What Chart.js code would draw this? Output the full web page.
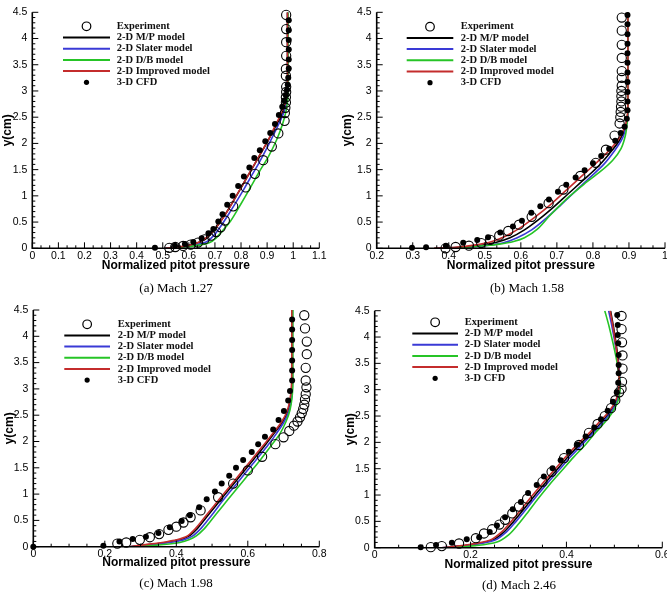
<!DOCTYPE html>
<html>
<head>
<meta charset="utf-8">
<script src="https://cdn.jsdelivr.net/npm/chart.js@4.4.1/dist/chart.umd.min.js"></script>
<style>
  html, body { margin: 0; padding: 0; background: #fff; }
  body { position: relative; width: 667px; height: 595px; overflow: hidden; }
  canvas { position: absolute; }
  .cap { position: absolute; font: 13px "Liberation Serif", "Times New Roman", serif; color: #000;
         transform: translateX(-50%); white-space: nowrap; line-height: 16px; }
</style>
</head>
<body>
<canvas id="chartA" width="334" height="282" style="left:0;top:0"></canvas>
<canvas id="chartB" width="343" height="282" style="left:334px;top:0"></canvas>
<canvas id="chartC" width="334" height="290" style="left:0;top:295px"></canvas>
<canvas id="chartD" width="343" height="290" style="left:334px;top:295px"></canvas>
<div class="cap" style="left:176px;top:280px">(a) Mach 1.27</div>
<div class="cap" style="left:527px;top:280px">(b) Mach 1.58</div>
<div class="cap" style="left:176px;top:575px">(c) Mach 1.98</div>
<div class="cap" style="left:519px;top:577px">(d) Mach 2.46</div>
<script>
// ---- tick values ----
const yTicks = [0, 0.5, 1, 1.5, 2, 2.5, 3, 3.5, 4, 4.5];
const xTicksA = [0, 0.1, 0.2, 0.3, 0.4, 0.5, 0.6, 0.7, 0.8, 0.9, 1, 1.1];
const xTicksB = [0.2, 0.3, 0.4, 0.5, 0.6, 0.7, 0.8, 0.9, 1];
const xTicksC = [0, 0.2, 0.4, 0.6, 0.8];
const xTicksD = [0, 0.2, 0.4, 0.6];

// ---- (a) Mach 1.27 ----
const expA = [[0.525,0.01],[0.548,0.025],[0.578,0.045],[0.607,0.07],[0.635,0.11],[0.66,0.17],[0.685,0.24],[0.705,0.31],[0.722,0.4],[0.738,0.53],[0.77,0.8],[0.818,1.16],[0.853,1.42],[0.885,1.68],[0.918,1.94],[0.943,2.19],[0.967,2.43],[0.968,2.58],[0.97,2.68],[0.972,2.78],[0.972,2.88],[0.973,2.98],[0.973,3.08],[0.972,3.29],[0.972,3.42],[0.973,3.67],[0.973,3.93],[0.973,4.18],[0.973,4.45]];
const cfdA = [[0.47,0.01],[0.547,0.05],[0.585,0.08],[0.617,0.12],[0.649,0.19],[0.675,0.285],[0.694,0.37],[0.713,0.51],[0.729,0.65],[0.747,0.83],[0.768,1.0],[0.789,1.19],[0.811,1.37],[0.832,1.54],[0.851,1.72],[0.872,1.87],[0.893,2.04],[0.912,2.2],[0.93,2.37],[0.945,2.54],[0.958,2.7],[0.966,2.82],[0.972,2.92],[0.976,3.02],[0.979,3.12],[0.981,3.25],[0.983,3.43],[0.983,3.6],[0.983,3.79],[0.983,3.97],[0.983,4.16],[0.983,4.35]];
const mpA = [[0.51,0],[0.57,0.03],[0.62,0.08],[0.66,0.16],[0.69,0.3],[0.72,0.5],[0.75,0.73],[0.78,0.98],[0.81,1.24],[0.84,1.5],[0.87,1.76],[0.9,2.02],[0.93,2.3],[0.953,2.52],[0.967,2.7],[0.975,2.88],[0.978,3.05],[0.978,3.5],[0.978,4.5]];
const slaterA = [[0.51,0],[0.58,0.03],[0.63,0.07],[0.67,0.13],[0.7,0.27],[0.725,0.44],[0.75,0.63],[0.78,0.87],[0.81,1.12],[0.84,1.38],[0.87,1.64],[0.9,1.92],[0.93,2.22],[0.955,2.48],[0.97,2.68],[0.977,2.85],[0.979,3.05],[0.979,3.5],[0.979,4.5]];
const dbA = [[0.52,0],[0.58,0.025],[0.64,0.06],[0.68,0.11],[0.705,0.2],[0.73,0.34],[0.76,0.52],[0.8,0.85],[0.835,1.15],[0.87,1.46],[0.905,1.75],[0.935,2.05],[0.958,2.35],[0.972,2.6],[0.978,2.8],[0.98,3.0],[0.98,3.5],[0.98,4.5]];
const impA = [[0.51,0],[0.56,0.025],[0.6,0.055],[0.64,0.12],[0.67,0.22],[0.7,0.37],[0.73,0.57],[0.76,0.81],[0.79,1.07],[0.82,1.33],[0.85,1.59],[0.88,1.85],[0.91,2.12],[0.935,2.38],[0.955,2.58],[0.968,2.75],[0.975,2.92],[0.978,3.1],[0.978,3.5],[0.978,4.5]];

// ---- (b) Mach 1.58 ----
const expB = [[0.391,0.0],[0.419,0.025],[0.456,0.05],[0.49,0.1],[0.515,0.16],[0.54,0.24],[0.565,0.33],[0.595,0.45],[0.63,0.6],[0.677,0.86],[0.718,1.12],[0.765,1.38],[0.808,1.63],[0.836,1.88],[0.86,2.15],[0.874,2.38],[0.876,2.5],[0.877,2.6],[0.878,2.7],[0.879,2.8],[0.879,2.9],[0.879,3.0],[0.88,3.1],[0.88,3.25],[0.88,3.38],[0.88,3.63],[0.88,3.88],[0.88,4.15],[0.88,4.4]];
const cfdB = [[0.298,0.01],[0.337,0.02],[0.392,0.05],[0.44,0.107],[0.479,0.158],[0.509,0.21],[0.543,0.3],[0.578,0.415],[0.603,0.527],[0.629,0.68],[0.654,0.8],[0.678,0.93],[0.703,1.08],[0.726,1.21],[0.752,1.35],[0.777,1.49],[0.8,1.62],[0.823,1.76],[0.845,1.9],[0.862,2.05],[0.877,2.2],[0.888,2.32],[0.894,2.47],[0.896,2.63],[0.896,2.8],[0.896,2.98],[0.896,3.17],[0.896,3.35],[0.896,3.54],[0.896,3.72],[0.896,3.9],[0.896,4.08],[0.896,4.27],[0.896,4.45]];
const mpB = [[0.36,0],[0.43,0.02],[0.48,0.05],[0.53,0.11],[0.57,0.2],[0.61,0.35],[0.65,0.55],[0.69,0.78],[0.73,1.03],[0.77,1.28],[0.81,1.53],[0.845,1.8],[0.873,2.05],[0.89,2.3],[0.896,2.5],[0.897,2.7],[0.897,3.5],[0.897,4.5]];
const slaterB = [[0.37,0],[0.45,0.02],[0.5,0.05],[0.55,0.1],[0.59,0.2],[0.63,0.35],[0.67,0.57],[0.71,0.82],[0.75,1.08],[0.79,1.34],[0.83,1.6],[0.86,1.86],[0.882,2.1],[0.893,2.35],[0.897,2.55],[0.898,2.75],[0.898,3.5],[0.898,4.5]];
const dbB = [[0.38,0],[0.45,0.02],[0.5,0.05],[0.54,0.08],[0.58,0.13],[0.61,0.2],[0.645,0.36],[0.68,0.62],[0.73,0.96],[0.775,1.22],[0.82,1.46],[0.855,1.68],[0.878,1.9],[0.89,2.15],[0.895,2.4],[0.897,2.7],[0.897,3.5],[0.897,4.5]];
const impB = [[0.36,0],[0.42,0.02],[0.47,0.06],[0.52,0.13],[0.56,0.24],[0.6,0.4],[0.64,0.6],[0.68,0.82],[0.72,1.07],[0.76,1.32],[0.8,1.57],[0.84,1.83],[0.87,2.07],[0.888,2.3],[0.895,2.5],[0.897,2.7],[0.897,3.5],[0.897,4.5]];

// ---- (c) Mach 1.98 ----
const expC = [[0.235,0.06],[0.26,0.08],[0.298,0.13],[0.326,0.18],[0.352,0.24],[0.378,0.32],[0.4,0.38],[0.42,0.46],[0.44,0.56],[0.468,0.69],[0.517,0.94],[0.559,1.2],[0.6,1.45],[0.64,1.71],[0.677,1.95],[0.7,2.08],[0.716,2.2],[0.729,2.3],[0.739,2.38],[0.746,2.46],[0.751,2.54],[0.755,2.62],[0.758,2.7],[0.76,2.8],[0.762,2.9],[0.764,3.03],[0.762,3.16],[0.762,3.4],[0.765,3.66],[0.765,3.9],[0.76,4.15],[0.758,4.4]];
const cfdC = [[0,0],[0.196,0.02],[0.241,0.1],[0.278,0.146],[0.315,0.19],[0.35,0.26],[0.382,0.37],[0.415,0.49],[0.438,0.6],[0.464,0.75],[0.485,0.9],[0.508,1.05],[0.527,1.2],[0.548,1.35],[0.567,1.5],[0.587,1.65],[0.611,1.8],[0.629,1.95],[0.648,2.09],[0.671,2.23],[0.686,2.41],[0.701,2.58],[0.713,2.78],[0.718,2.96],[0.724,3.16],[0.724,3.35],[0.724,3.54],[0.724,3.74],[0.724,3.93],[0.724,4.13],[0.724,4.32]];
const mpC = [[0.27,0],[0.31,0.03],[0.35,0.06],[0.38,0.09],[0.41,0.13],[0.435,0.2],[0.455,0.32],[0.475,0.48],[0.495,0.65],[0.525,0.9],[0.555,1.15],[0.585,1.4],[0.615,1.65],[0.645,1.9],[0.673,2.15],[0.698,2.38],[0.712,2.58],[0.72,2.8],[0.723,3.05],[0.724,3.5],[0.724,4.5]];
const slaterC = [[0.27,0],[0.32,0.03],[0.36,0.06],[0.39,0.09],[0.42,0.13],[0.445,0.2],[0.465,0.32],[0.485,0.48],[0.505,0.65],[0.533,0.9],[0.563,1.15],[0.593,1.4],[0.623,1.65],[0.653,1.9],[0.68,2.15],[0.702,2.38],[0.715,2.58],[0.722,2.8],[0.725,3.05],[0.725,3.5],[0.725,4.5]];
const dbC = [[0.28,0],[0.33,0.02],[0.38,0.05],[0.41,0.08],[0.435,0.13],[0.455,0.2],[0.475,0.32],[0.495,0.48],[0.515,0.65],[0.545,0.9],[0.575,1.15],[0.605,1.4],[0.635,1.65],[0.663,1.9],[0.69,2.15],[0.707,2.38],[0.718,2.6],[0.724,2.85],[0.726,3.1],[0.726,3.5],[0.726,4.5]];
const impC = [[0.27,0],[0.3,0.03],[0.34,0.06],[0.37,0.09],[0.4,0.13],[0.43,0.2],[0.45,0.32],[0.47,0.48],[0.49,0.65],[0.52,0.9],[0.55,1.15],[0.58,1.4],[0.61,1.65],[0.64,1.9],[0.67,2.15],[0.695,2.38],[0.71,2.58],[0.718,2.8],[0.722,3.05],[0.723,3.5],[0.723,4.5]];

// ---- (d) Mach 2.46 ----
const expD = [[0.117,0.01],[0.14,0.03],[0.176,0.08],[0.211,0.18],[0.228,0.27],[0.245,0.35],[0.26,0.44],[0.272,0.53],[0.287,0.65],[0.301,0.78],[0.318,0.93],[0.35,1.25],[0.369,1.44],[0.395,1.7],[0.426,1.95],[0.447,2.18],[0.465,2.35],[0.48,2.5],[0.493,2.65],[0.502,2.8],[0.51,2.95],[0.515,3.02],[0.516,3.15],[0.517,3.4],[0.517,3.65],[0.516,3.9],[0.515,4.15],[0.515,4.4]];
const cfdD = [[0.096,0.01],[0.128,0.05],[0.161,0.095],[0.192,0.16],[0.218,0.2],[0.24,0.3],[0.255,0.42],[0.272,0.58],[0.288,0.73],[0.305,0.87],[0.32,1.04],[0.338,1.19],[0.353,1.35],[0.371,1.51],[0.388,1.66],[0.405,1.82],[0.423,1.96],[0.44,2.11],[0.458,2.28],[0.472,2.44],[0.486,2.6],[0.497,2.77],[0.505,2.95],[0.508,3.13],[0.509,3.31],[0.509,3.47],[0.509,3.66],[0.508,3.88],[0.507,4.04],[0.507,4.23],[0.506,4.42]];
const mpD = [[0.14,0],[0.195,0.05],[0.245,0.14],[0.27,0.3],[0.29,0.5],[0.31,0.72],[0.33,0.95],[0.355,1.22],[0.38,1.48],[0.405,1.74],[0.43,1.98],[0.455,2.2],[0.475,2.4],[0.493,2.6],[0.505,2.8],[0.51,3.0],[0.511,3.2],[0.509,3.5],[0.504,3.85],[0.498,4.2],[0.492,4.5]];
const slaterD = [[0.14,0],[0.2,0.05],[0.25,0.14],[0.275,0.3],[0.295,0.5],[0.315,0.72],[0.335,0.95],[0.36,1.22],[0.385,1.48],[0.41,1.74],[0.435,1.98],[0.458,2.2],[0.478,2.4],[0.495,2.6],[0.506,2.8],[0.511,3.0],[0.511,3.2],[0.508,3.5],[0.502,3.85],[0.495,4.2],[0.488,4.5]];
const dbD = [[0.15,0],[0.21,0.04],[0.255,0.11],[0.28,0.25],[0.3,0.45],[0.32,0.68],[0.34,0.92],[0.365,1.2],[0.39,1.46],[0.415,1.72],[0.44,1.96],[0.462,2.2],[0.482,2.4],[0.498,2.6],[0.508,2.8],[0.512,3.0],[0.511,3.2],[0.506,3.5],[0.498,3.85],[0.489,4.2],[0.48,4.5]];
const impD = [[0.14,0],[0.19,0.05],[0.24,0.14],[0.265,0.3],[0.285,0.5],[0.305,0.72],[0.325,0.95],[0.35,1.22],[0.375,1.48],[0.4,1.74],[0.425,1.98],[0.45,2.2],[0.47,2.4],[0.49,2.6],[0.503,2.8],[0.509,3.0],[0.51,3.2],[0.508,3.5],[0.503,3.85],[0.497,4.2],[0.491,4.5]];

Chart.defaults.font.family = '"Liberation Sans", Arial, sans-serif';
Chart.defaults.color = '#000';

const toXY = pts => pts.map(p => ({ x: p[0], y: p[1] }));
const fmt = v => String(Math.round(v * 100) / 100);

function lineSet(label, pts, color, order) {
  return { label, data: toXY(pts), showLine: true, borderColor: color, borderWidth: 1.6,
           pointRadius: 0, tension: 0.3, fill: false, order };
}

// axis lines + inward major/minor ticks, like the original plots
const frame = {
  id: 'frame',
  afterDraw(chart, args, o) {
    const { ctx, chartArea: a, scales: { x, y } } = chart;
    ctx.save();
    ctx.strokeStyle = '#000';
    ctx.lineWidth = 1;
    ctx.beginPath();
    const xv = x.ticks.map(t => t.value);
    xv.forEach((v, i) => {
      const px = x.getPixelForValue(v);
      ctx.moveTo(px, a.bottom); ctx.lineTo(px, a.bottom - 6);
      if (i < xv.length - 1) {
        const step = (xv[i + 1] - v) / (o.xMinor + 1);
        for (let k = 1; k <= o.xMinor; k++) {
          const m = x.getPixelForValue(v + k * step);
          ctx.moveTo(m, a.bottom); ctx.lineTo(m, a.bottom - 3);
        }
      }
    });
    const yv = y.ticks.map(t => t.value);
    yv.forEach((v, i) => {
      const py = y.getPixelForValue(v);
      ctx.moveTo(a.left, py); ctx.lineTo(a.left + 6, py);
      if (i < yv.length - 1) {
        const step = (yv[i + 1] - v) / 5;
        for (let k = 1; k <= 4; k++) {
          const m = y.getPixelForValue(v + k * step);
          ctx.moveTo(a.left, m); ctx.lineTo(a.left + 3, m);
        }
      }
    });
    ctx.stroke();
    ctx.lineWidth = 1.6;
    ctx.beginPath();
    ctx.moveTo(a.left, a.top); ctx.lineTo(a.left, a.bottom); ctx.lineTo(a.right, a.bottom);
    ctx.stroke();
    ctx.restore();
  }
};

// Tecplot-style legend inside the plot
const boxLegend = {
  id: 'boxLegend',
  afterDraw(chart, args, o) {
    const ctx = chart.ctx;
    ctx.save();
    ctx.font = 'bold 10.5px "Liberation Serif", "Times New Roman", serif';
    ctx.textBaseline = 'middle';
    chart.data.datasets.forEach((ds, i) => {
      const yy = o.y + i * o.dy;
      const cx = (o.x0 + o.x1) / 2;
      if (ds.showLine) {
        ctx.strokeStyle = ds.borderColor;
        ctx.lineWidth = 2;
        ctx.beginPath(); ctx.moveTo(o.x0, yy); ctx.lineTo(o.x1, yy); ctx.stroke();
      } else if (ds.pointRadius > 3) {
        ctx.strokeStyle = '#000'; ctx.lineWidth = 1.2;
        ctx.beginPath(); ctx.arc(cx, yy, 4.3, 0, Math.PI * 2); ctx.stroke();
      } else {
        ctx.fillStyle = '#000';
        ctx.beginPath(); ctx.arc(cx, yy, 2.6, 0, Math.PI * 2); ctx.fill();
      }
      ctx.fillStyle = '#111';
      ctx.fillText(ds.label, o.xt, yy);
    });
    ctx.restore();
  }
};

function makeChart(id, p) {
  const datasets = [
    { label: 'Experiment', data: toXY(p.exp), showLine: false, pointRadius: 4.6, pointBorderWidth: 1.1,
      pointBorderColor: '#000', pointBackgroundColor: 'rgba(0,0,0,0)', order: 1, clip: false },
    lineSet('2-D M/P model', p.mp, '#000000', 5),
    lineSet('2-D Slater model', p.slater, '#3a3ad6', 4),
    lineSet('2-D D/B model', p.db, '#26c426', 3),
    lineSet('2-D Improved model', p.imp, '#c42c2c', 2),
    { label: '3-D CFD', data: toXY(p.cfd), showLine: false, pointRadius: 3, pointBorderWidth: 0,
      pointBackgroundColor: '#000', pointBorderColor: '#000', order: 0, clip: false }
  ];
  return new Chart(document.getElementById(id), {
    type: 'scatter',
    data: { datasets },
    options: {
      responsive: false,
      animation: false,
      events: [],
      layout: { padding: { left: 0, top: p.top, right: p.right, bottom: 0 } },
      plugins: { legend: { display: false }, tooltip: { enabled: false },
                 frame: { xMinor: p.xMinor }, boxLegend: p.legend },
      scales: {
        x: {
          type: 'linear', min: p.xTicks[0], max: p.xTicks[p.xTicks.length - 1],
          afterBuildTicks: s => { s.ticks = p.xTicks.map(v => ({ value: v })); },
          afterFit: s => { s.height = p.xH; },
          grid: { display: false, drawTicks: false }, border: { display: false },
          ticks: { autoSkip: false, maxRotation: 0, padding: 1.5, font: { size: 10.5 }, callback: fmt },
          title: { display: true, text: 'Normalized pitot pressure', font: { size: 12, weight: 'bold' },
                   padding: { top: 0, bottom: p.xtPad } }
        },
        y: {
          type: 'linear', min: 0, max: 4.5,
          afterBuildTicks: s => { s.ticks = yTicks.map(v => ({ value: v })); },
          afterFit: s => { s.width = p.yW; },
          grid: { display: false, drawTicks: false }, border: { display: false },
          ticks: { autoSkip: false, padding: 5, font: { size: 10.5 }, callback: fmt },
          title: { display: true, text: 'y(cm)', font: { size: 12, weight: 'bold' },
                   padding: { top: p.ytPad, bottom: 0 } }
        }
      }
    },
    plugins: [frame, boxLegend]
  });
}

makeChart('chartA', { exp: expA, cfd: cfdA, mp: mpA, slater: slaterA, db: dbA, imp: impA,
  xTicks: xTicksA, xMinor: 2, top: 12.3, right: 14.7, xH: 33.7, yW: 32.3, xtPad: 8.8, ytPad: 0.3,
  legend: { x0: 63, x1: 110, xt: 116.7, y: 26.3, dy: 11.2 } });
makeChart('chartB', { exp: expB, cfd: cfdB, mp: mpB, slater: slaterB, db: dbB, imp: impB,
  xTicks: xTicksB, xMinor: 2, top: 12.3, right: 12, xH: 33.7, yW: 42.7, xtPad: 8.8, ytPad: 6.8,
  legend: { x0: 72.7, x1: 119.3, xt: 126.7, y: 26.7, dy: 11.2 } });
makeChart('chartC', { exp: expC, cfd: cfdC, mp: mpC, slater: slaterC, db: dbC, imp: impC,
  xTicks: xTicksC, xMinor: 3, top: 15, right: 14.7, xH: 38.3, yW: 33.3, xtPad: 14.8, ytPad: 2.8,
  legend: { x0: 64.3, x1: 110, xt: 117.7, y: 29.3, dy: 11.15 } });
makeChart('chartD', { exp: expD, cfd: cfdD, mp: mpD, slater: slaterD, db: dbD, imp: impD,
  xTicks: xTicksD, xMinor: 3, top: 15.7, right: 14.7, xH: 37.3, yW: 40.7, xtPad: 12.8, ytPad: 9.8,
  legend: { x0: 78.3, x1: 124, xt: 130.7, y: 27.3, dy: 11.2 } });
</script>
</body>
</html>
